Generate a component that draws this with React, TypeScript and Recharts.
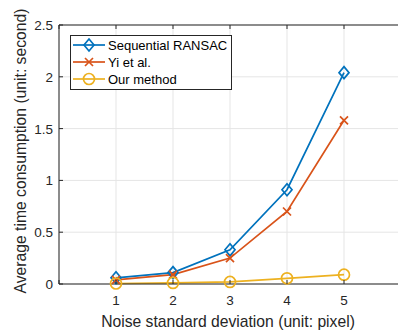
import React from "react";
import { LineChart, Line, XAxis, YAxis, CartesianGrid } from "recharts";

const noiseLevels = [1, 2, 3, 4, 5];
const sequentialRansac = [0.06, 0.11, 0.33, 0.91, 2.04];
const yiEtAl = [0.04, 0.09, 0.25, 0.7, 1.58];
const ourMethod = [0.005, 0.01, 0.02, 0.055, 0.09];
const xTicks = [0, 1, 2, 3, 4, 5, 6];
const xLabelTicks = [1, 2, 3, 4, 5];
const yTicks = [0, 0.5, 1, 1.5, 2, 2.5];
const seriesNames = ["Sequential RANSAC", "Yi et al.", "Our method"];

const data = noiseLevels.map((x, i) => ({
  x,
  seq: sequentialRansac[i],
  yi: yiEtAl[i],
  ours: ourMethod[i],
}));

const BLUE = "#0072BD";
const ORANGE = "#D95319";
const YELLOW = "#EDB120";
const AXIS = "#262626";
const FONT = "'Liberation Sans', Arial, Helvetica, sans-serif";
const LW = 1.7;

const Diamond = ({ cx, cy, color }: any) => (
  <path
    d={`M${cx},${cy - 6} L${cx + 5},${cy} L${cx},${cy + 6} L${cx - 5},${cy} Z`}
    fill="none"
    stroke={color}
    strokeWidth={LW}
  />
);
const Cross = ({ cx, cy, color }: any) => (
  <path
    d={`M${cx - 4},${cy - 4} L${cx + 4},${cy + 4} M${cx - 4},${cy + 4} L${cx + 4},${cy - 4}`}
    fill="none"
    stroke={color}
    strokeWidth={LW}
  />
);
const Circle = ({ cx, cy, color }: any) => (
  <circle cx={cx} cy={cy} r={5.5} fill="none" stroke={color} strokeWidth={LW} />
);

const makeDot = (Shape: any, color: string) => (props: any) =>
  props.cx == null ? <g key={props.key} /> : <Shape key={props.key} cx={props.cx} cy={props.cy} color={color} />;

const PL = 59;
const PT = 25;
const PB = 284;
const PR = 401;

const xTickBottom = (props: any) => {
  const { x, payload } = props;
  const show = xLabelTicks.includes(payload.value);
  return (
    <g key={`xb-${payload.value}`}>
      <line x1={x} y1={PB} x2={x} y2={PB - 4} stroke={AXIS} />
      {show && (
        <text x={x} y={PB + 21} textAnchor="middle" fill={AXIS} fontSize={13.5} fontFamily={FONT}>
          {payload.value}
        </text>
      )}
    </g>
  );
};
const xTickTop = (props: any) => {
  const { x, payload } = props;
  return <line key={`xt-${payload.value}`} x1={x} y1={PT} x2={x} y2={PT + 4} stroke={AXIS} />;
};
const yTickLeft = (props: any) => {
  const { y, payload } = props;
  return (
    <g key={`yl-${payload.value}`}>
      <line x1={PL} y1={y} x2={PL + 4} y2={y} stroke={AXIS} />
      <text x={PL - 6} y={y + 5} textAnchor="end" fill={AXIS} fontSize={13.5} fontFamily={FONT}>
        {payload.value}
      </text>
    </g>
  );
};
const yTickRight = (props: any) => {
  const { y, payload } = props;
  return <line key={`yr-${payload.value}`} x1={PR} y1={y} x2={PR - 4} y2={y} stroke={AXIS} />;
};

const LegendBox = () => {
  const rows = [
    { name: seriesNames[0], color: BLUE, Shape: Diamond },
    { name: seriesNames[1], color: ORANGE, Shape: Cross },
    { name: seriesNames[2], color: YELLOW, Shape: Circle },
  ];
  return (
    <svg width={162} height={55} style={{ position: "absolute", left: 70, top: 35 }}>
      <rect x={0.5} y={0.5} width={161} height={54} fill="#fff" stroke={AXIS} strokeWidth={1} />
      {rows.map((r, i) => {
        const cy = 10 + i * 17;
        return (
          <g key={r.name}>
            <line x1={3} y1={cy} x2={35} y2={cy} stroke={r.color} strokeWidth={LW} />
            <r.Shape cx={19} cy={cy} color={r.color} />
            <text x={38} y={cy + 4.5} fontSize={13} fontFamily={FONT} fill="#000">
              {r.name}
            </text>
          </g>
        );
      })}
    </svg>
  );
};

export default function App() {
  return (
    <div style={{ position: "absolute", left: 0, top: 0, width: 398, height: 334, overflow: "hidden", background: "#fff" }}>
      <LineChart width={402} height={334} data={data} margin={{ top: 0, right: 0, bottom: 0, left: 0 }}>
        <CartesianGrid stroke="#e5e5e5" strokeWidth={1} xAxisId="bottom" yAxisId="left" />
        <XAxis
          xAxisId="bottom"
          dataKey="x"
          type="number"
          domain={[0, 6]}
          ticks={xTicks}
          interval={0}
          height={50}
          tickLine={false}
          tick={xTickBottom}
          axisLine={{ stroke: AXIS }}
        />
        <XAxis
          xAxisId="top"
          orientation="top"
          dataKey="x"
          type="number"
          domain={[0, 6]}
          ticks={xTicks}
          interval={0}
          height={25}
          tickLine={false}
          tick={xTickTop}
          axisLine={{ stroke: AXIS }}
        />
        <YAxis
          yAxisId="left"
          type="number"
          domain={[0, 2.5]}
          ticks={yTicks}
          interval={0}
          width={59}
          tickLine={false}
          tick={yTickLeft}
          axisLine={{ stroke: AXIS }}
        />
        <YAxis
          yAxisId="right"
          orientation="right"
          type="number"
          domain={[0, 2.5]}
          ticks={yTicks}
          interval={0}
          width={1}
          tickLine={false}
          tick={yTickRight}
          axisLine={{ stroke: AXIS }}
        />
        <Line xAxisId="bottom" yAxisId="left" dataKey="seq" name={seriesNames[0]} stroke={BLUE} strokeWidth={LW} dot={makeDot(Diamond, BLUE)} isAnimationActive={false} />
        <Line xAxisId="bottom" yAxisId="left" dataKey="yi" name={seriesNames[1]} stroke={ORANGE} strokeWidth={LW} dot={makeDot(Cross, ORANGE)} isAnimationActive={false} />
        <Line xAxisId="bottom" yAxisId="left" dataKey="ours" name={seriesNames[2]} stroke={YELLOW} strokeWidth={LW} dot={makeDot(Circle, YELLOW)} isAnimationActive={false} />
      </LineChart>
      <div
        style={{
          position: "absolute",
          left: 228,
          top: 312,
          transform: "translateX(-50%)",
          whiteSpace: "nowrap",
          fontFamily: FONT,
          fontSize: 15.7,
          color: AXIS,
          lineHeight: "19px",
        }}
      >
        Noise standard deviation (unit: pixel)
      </div>
      <div
        style={{
          position: "absolute",
          left: 20,
          top: 151,
          transform: "translate(-50%, -50%) rotate(-90deg)",
          whiteSpace: "nowrap",
          fontFamily: FONT,
          fontSize: 15.7,
          color: AXIS,
          lineHeight: "19px",
        }}
      >
        Average time consumption (unit: second)
      </div>
      <LegendBox />
    </div>
  );
}
